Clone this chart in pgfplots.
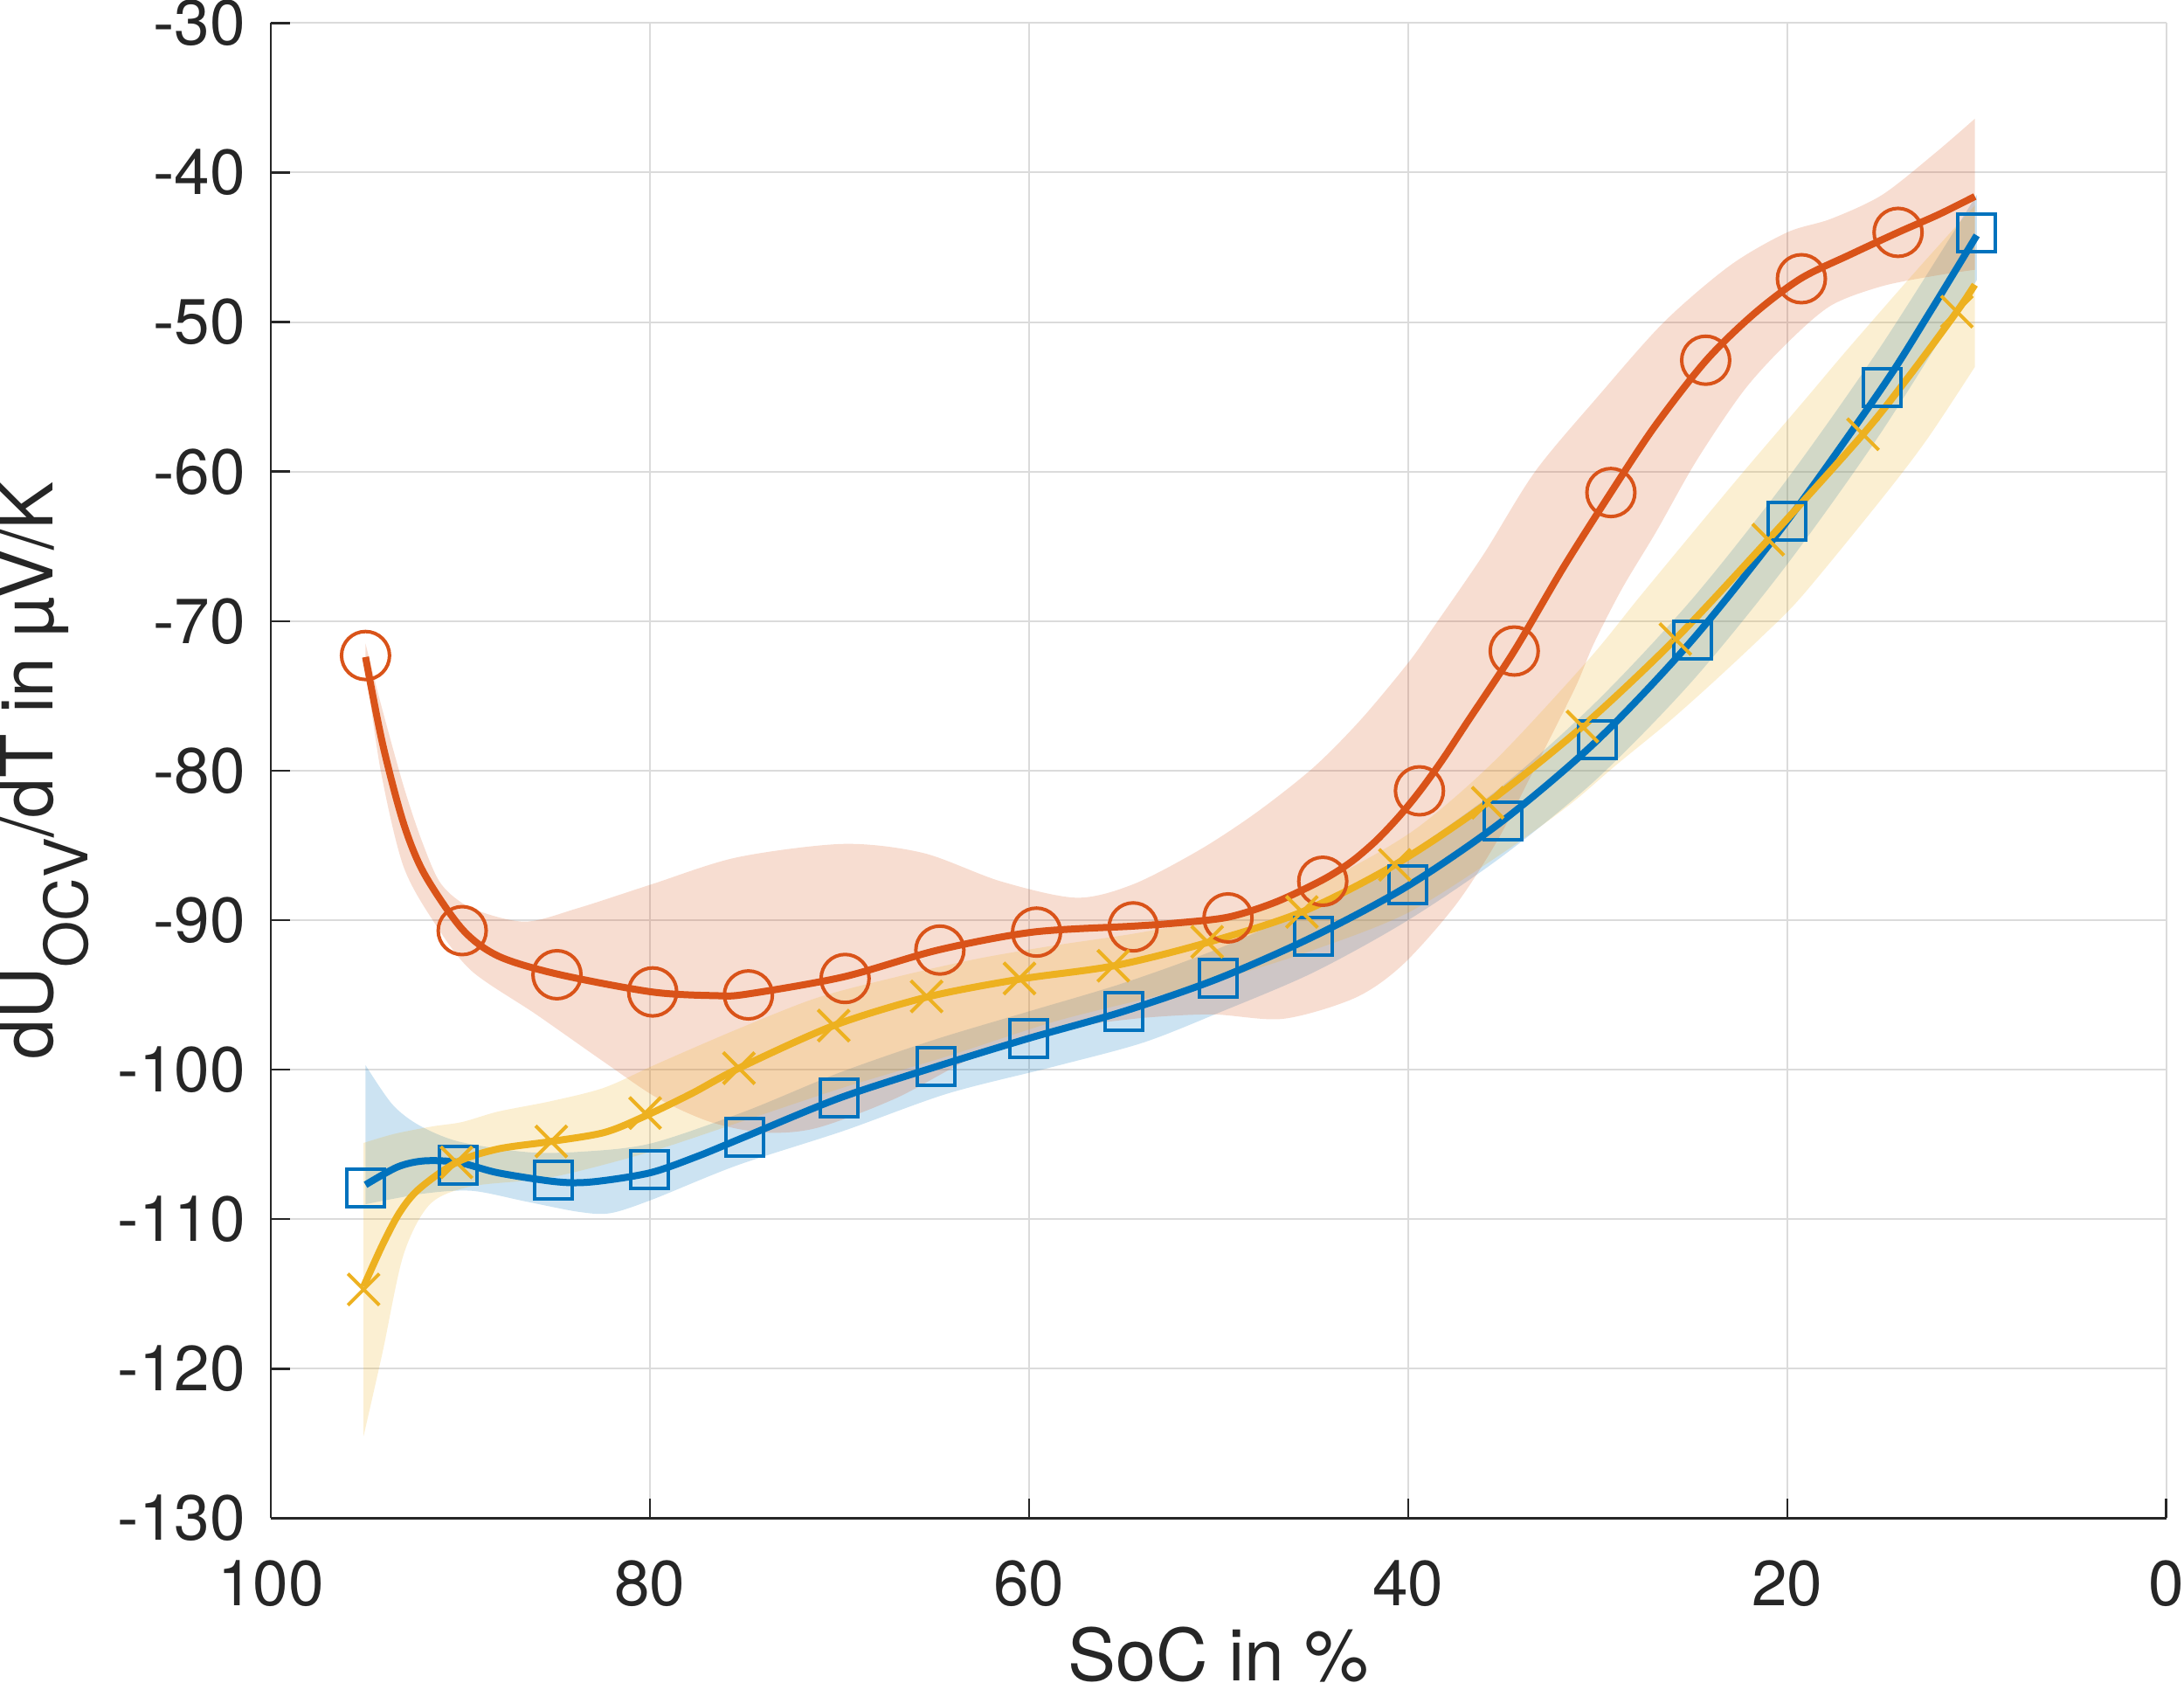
\documentclass[border=0pt]{standalone}
\usepackage{fontspec}
\setmainfont{TeX Gyre Heros}
\usepackage{pgfplots}
\pgfplotsset{compat=1.18}
\usepgfplotslibrary{fillbetween}
\definecolor{mblue}{HTML}{0072BD}
\definecolor{mred}{HTML}{D95319}
\definecolor{myel}{HTML}{EDB120}
\definecolor{axgray}{HTML}{262626}
\begin{document}
\begin{tikzpicture}
\begin{axis}[
  width=434.2pt, height=342.4pt, scale only axis,
  xmin=0, xmax=100, ymin=-130, ymax=-30,
  x dir=reverse,
  xtick={0,20,...,100}, ytick={-130,-120,...,-30},
  axis x line*=bottom, axis y line*=left,
  axis line style={draw=axgray, line width=0.5pt},
  tick style={draw=axgray, line width=0.5pt},
  tick align=inside, major tick length=4.5pt,
  grid=major, major grid style={draw=black!14, line width=0.4pt},
  /pgf/number format/assume math mode=true,
  tick label style={font=\fontsize{14.6}{17}\selectfont, text=axgray},
  yticklabel style={inner sep=0pt, xshift=-5.6pt},
  xticklabel style={inner sep=0pt, yshift=-9.5pt},
  label style={font=\fontsize{16.5}{19}\selectfont, text=axgray},
  xlabel={SoC in \%},
  xlabel style={at={(axis description cs:0.5,-0.1105)}, anchor=south, inner sep=0pt},
  ylabel={dU\raisebox{-8pt}{\fontsize{13.7}{14}\selectfont OCV}/dT in µV/K},
  ylabel style={at={(axis description cs:-0.1433,0.5)}, rotate=0, anchor=north, inner sep=0pt},
]
% ---------------- blue band ----------------
\addplot[name path=bu, draw=none, smooth, forget plot] coordinates {
(95,-99.7) (93.6,-102.3) (92.2,-103.7) (90.1,-104.8) (86.6,-105.5) (83.8,-105.5)
(80,-104.95) (75,-102.8) (70,-100.2) (65,-98.0) (60,-96.1) (55,-94.2) (50,-91.9)
(45,-89.0) (40,-85.5) (35,-81.0) (30,-75.3) (25,-68.5) (20,-60.5) (15,-51.5) (10,-41.5)};
\addplot[name path=bl, draw=none, smooth, forget plot] coordinates {
(95,-109) (92,-108.3) (89.4,-108.1) (86.6,-108.8) (83.8,-109.5) (82.1,-109.6)
(79.9,-108.7) (75.4,-106.4) (69.8,-104.1) (64.3,-101.6) (58.7,-99.8) (54,-98.2)
(50,-96.2) (45,-93.5) (40,-90.0) (35,-85.7) (30,-80.5) (25,-74.0) (20,-66.2) (15,-57.3) (10,-47.2)};
\addplot[fill=mblue, fill opacity=0.2, draw=none, forget plot] fill between[of=bu and bl];
% blue line
\addplot[mblue, line width=1.6pt, smooth, no marks] coordinates {
(95.0,-107.7) (93.3,-106.5) (91.9,-106.1) (90.1,-106.2) (88.0,-106.9) (84.9,-107.5)
(83.0,-107.5) (80.0,-106.9) (77.5,-105.8) (75.0,-104.5) (70.0,-101.9) (64.9,-99.8)
(60.0,-97.9) (55.0,-96.1) (50.0,-93.9) (45.0,-91.1) (40.0,-87.7) (35.0,-83.35)
(30.0,-77.95) (25.0,-71.25) (20.0,-63.3) (15.0,-54.4) (12.5,-49.4) (10.0,-44.2)};
\addplot[only marks, mblue, mark=square, mark size=4.3pt, mark options={line width=0.8pt}] coordinates {
(95,-107.9) (90.1,-106.4) (85.1,-107.4) (80,-106.7) (75,-104.5) (70,-101.9)
(64.9,-99.8) (60,-97.9) (55,-96.1) (50,-93.9) (45,-91.1) (40,-87.65) (35,-83.35)
(30,-77.95) (25,-71.25) (20,-63.3) (15,-54.4) (10,-44.05)};
% ---------------- red band ----------------
\addplot[name path=ru, draw=none, smooth, forget plot] coordinates {
(95,-71.5) (94.2,-75.5) (93.0,-81) (92.0,-84.8) (91.0,-87.6) (89.4,-89.2) (86.6,-90.1)
(83.8,-89.2) (79.9,-87.6) (75.4,-85.8) (69.8,-84.9) (65.6,-85.5) (61.5,-87.4)
(57.5,-88.5) (54.5,-87.6) (51.0,-85.3) (48.0,-82.8) (45.0,-79.8) (42.5,-76.6)
(40.0,-72.8) (38.6,-70.3) (36.0,-65.5) (33.3,-60.0) (30.0,-55.0) (26.5,-50.0)
(23.0,-46.2) (20.0,-44.0) (17.7,-43.1) (15.0,-41.5) (12.2,-38.7) (10.1,-36.4)};
\addplot[name path=rl, draw=none, smooth, forget plot] coordinates {
(95,-73.0) (94.2,-80) (93.0,-86.4) (91.3,-90.3) (89.4,-93.4) (86.0,-96.3) (82.4,-99.5)
(79.6,-101.9) (76.8,-103.5) (74.0,-104.2) (71.2,-103.9) (67.0,-101.9) (62.8,-99.1)
(58.7,-97.4) (54.5,-96.6) (50.4,-96.3) (46.6,-96.6) (42.8,-95.2) (40.3,-93.0)
(37.5,-89.0) (35.3,-84.7) (33.3,-79.8) (31.2,-74.5) (30.2,-71.5) (28.7,-67.8)
(26.9,-64.0) (24.8,-59.3) (22.3,-54.6) (20.0,-51.4) (17.7,-48.9) (15.0,-47.6)
(12.2,-46.9) (10.1,-46.5)};
\addplot[fill=mred, fill opacity=0.2, draw=none, forget plot] fill between[of=ru and rl];
% red line
\addplot[mred, line width=1.6pt, smooth, no marks] coordinates {
(95.0,-72.4) (94.1,-78.2) (93.0,-83.5) (91.9,-86.9) (89.9,-90.6) (88.0,-92.4)
(84.9,-93.6) (79.9,-94.8) (76.5,-95.05) (74.9,-94.95) (69.8,-93.8) (64.8,-92.0)
(59.8,-90.8) (54.5,-90.4) (52.3,-90.2) (49.5,-89.8) (47.0,-88.8) (44.5,-87.3)
(43.0,-86.1) (41.7,-84.7) (40.5,-83.1) (39.4,-81.4) (38.2,-79.3) (36.9,-76.8)
(34.4,-72.0) (31.8,-66.4) (29.3,-61.4)
(27.0,-57.0) (24.3,-52.6) (21.8,-49.5) (19.3,-47.1) (16.7,-45.5) (14.15,-44.0)
(12.0,-42.8) (10.1,-41.6)};
\addplot[only marks, mred, mark=o, mark size=5.5pt, mark options={line width=0.8pt}] coordinates {
(95.0,-72.3) (89.9,-90.7) (84.9,-93.65) (79.85,-94.8) (74.8,-95.0) (69.7,-93.9)
(64.7,-92.0) (59.6,-90.8) (54.5,-90.45) (49.5,-89.85) (44.5,-87.4) (39.4,-81.35)
(34.4,-72.0) (29.3,-61.4) (24.3,-52.55) (19.25,-47.1) (14.15,-44.0)};
% ---------------- yellow band ----------------
\addplot[name path=yu, draw=none, smooth, forget plot] coordinates {
(95.1,-104.9) (93.5,-104.3) (91.5,-103.8) (89.9,-103.5) (88.0,-102.8) (85.2,-102.1)
(82.4,-101.2) (79.6,-99.6) (75.4,-97.3) (71.2,-95.2) (67.0,-93.8) (62.8,-92.6)
(58.7,-91.7) (54.0,-90.8) (48.1,-89.3) (43.8,-87.0) (39.6,-83.9) (35.4,-79.3)
(30.5,-72.6) (27.8,-68.4) (24.8,-63.8) (22.3,-60.0) (19.0,-55.1) (16.8,-51.8)
(13.15,-46.5) (10.1,-42.2)};
\addplot[name path=yl, draw=none, smooth, forget plot] coordinates {
(95.1,-124.5) (94.1,-118.9) (93.0,-112.4) (91.6,-109.0) (89.4,-107.8) (85.2,-107.2)
(80,-105.5) (75,-103.4) (69.8,-101.2) (64.3,-99.1) (58.7,-96.8) (54,-95.3) (50,-94.0)
(45,-92.0) (40,-89.5) (35,-85.5) (31.5,-82.3) (29,-79.6) (26.4,-76.9) (24,-74.2)
(21.3,-71.0) (19.2,-68.3) (15.0,-61.8) (12.6,-57.8) (10.1,-53.0)};
\addplot[fill=myel, fill opacity=0.2, draw=none, forget plot] fill between[of=yu and yl];
% yellow line
\addplot[myel, line width=1.6pt, smooth, no marks] coordinates {
(95.1,-114.5) (94.1,-111.7) (93.2,-109.55) (92.2,-108.0) (90.2,-106.2) (88.0,-105.3)
(85.2,-104.8) (82.4,-104.2) (80.25,-103.1) (77.8,-101.6) (75.3,-99.9) (70.3,-97.05)
(65.4,-95.15) (60.5,-93.95) (55.5,-93.05) (50.6,-91.5) (45.6,-89.45) (40.7,-86.3)
(35.8,-82.15) (30.8,-77.05) (25.9,-71.2) (21.0,-64.55) (16.0,-57.5) (13.5,-53.5)
(11.05,-49.3) (10.1,-47.5)};
\addplot[only marks, myel, mark=x, mark size=5.1pt, mark options={line width=0.8pt}] coordinates {
(95.1,-114.7) (90.2,-106.2) (85.2,-104.8) (80.25,-102.9) (75.3,-99.9) (70.3,-97.05)
(65.4,-95.1) (60.5,-93.9) (55.55,-93.05) (50.6,-91.45) (45.6,-89.45) (40.7,-86.3)
(35.8,-82.15) (30.8,-77.05) (25.9,-71.2) (21.0,-64.55) (16.0,-57.5) (11.05,-49.3)};
\end{axis}
\end{tikzpicture}
\end{document}
